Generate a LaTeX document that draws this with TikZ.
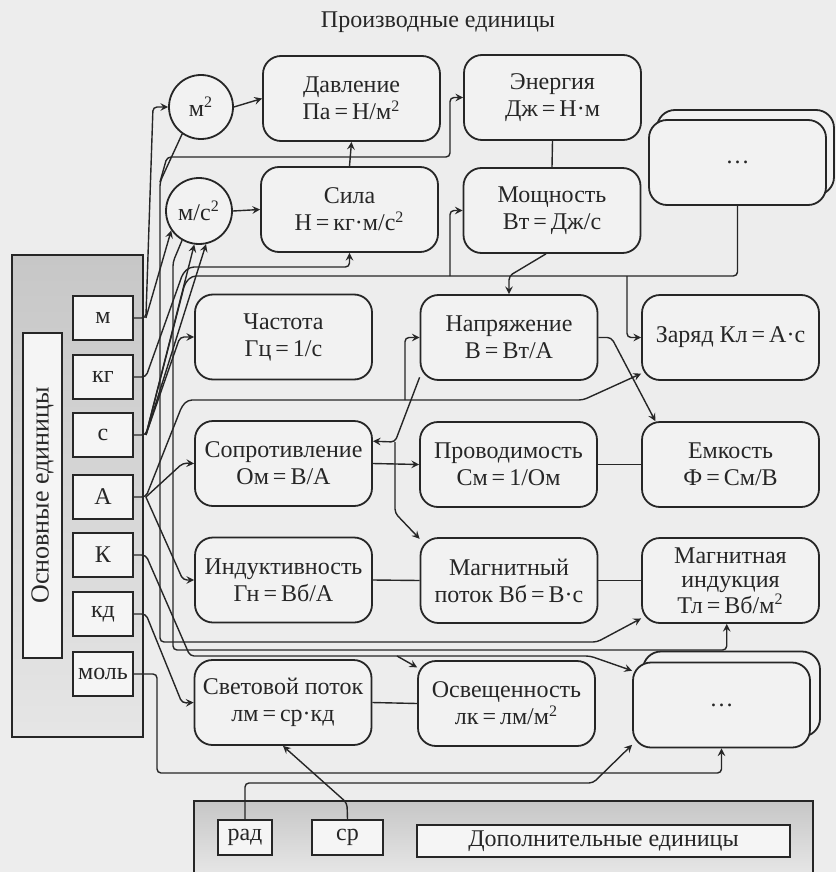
\documentclass[tikz,border=0pt]{standalone}
\usepackage{fontspec}
\setmainfont{Liberation Serif}
\usepackage{xcolor}
\usetikzlibrary{calc}

\tikzset{
  derived/.style={draw, line width=0.9pt, rounded corners=9pt, fill=black!5,
    minimum width=88.5pt, minimum height=42.5pt, align=center, inner sep=1pt,
    font=\fontsize{12}{13.5}\selectfont},
  unitbox/.style={draw, line width=0.9pt, fill=black!4, minimum width=30pt,
    minimum height=22pt, inner sep=0pt, font=\fontsize{12}{12}\selectfont},
  groupbox/.style={line width=0.9pt, top color=black!22, bottom color=black!10, inner sep=0pt},
  powerunit/.style={draw, circle, line width=0.9pt, fill=black!5, inner sep=0pt,
    font=\fontsize{12}{12}\selectfont},
  link/.style={line width=0.7pt, rounded corners=2pt},
}

\begin{document}
\begin{tikzpicture}[x=0.5pt, y=-0.5pt, >=stealth, color=black!85]
    % фон страницы
    \fill[black!7] (0,0) rectangle (836,872);
    \useasboundingbox (0,0) rectangle (836,872);

    \node (title) at (438,22) {\fontsize{12}{12}\selectfont Производные единицы};

    % основные единицы
    \node (base) [groupbox, draw, minimum width=65.5pt, minimum height=241pt] at (77.5,496) {};
    \node (baselabel) [unitbox, rotate=90, minimum width=162.5pt, minimum height=19.5pt,
        font=\fontsize{13}{13}\selectfont] at (42.5,495.5) {Основные единицы};
    \node (m)   [unitbox] at (103,318) {м};
    \node (kg)  [unitbox] at (103,377) {кг};
    \node (sec) [unitbox] at (103,435) {с};
    \node (A)   [unitbox] at (103,497) {А};
    \node (K)   [unitbox] at (103,555) {К};
    \node (kd)  [unitbox] at (103,614) {кд};
    \node (mol) [unitbox] at (103,674) {моль};

    % дополнительные единицы (рамка уходит за край)
    \node (extra) [groupbox, minimum width=308.5pt, minimum height=35pt] at (503.5,837) {};
    \draw[line width=0.9pt] (extra.south west) -- (extra.north west) -- (extra.north east) -- (extra.south east);
    \node (rad) [unitbox, minimum width=27pt, minimum height=17.5pt] at (245,837.5) {рад};
    \node (sr)  [unitbox, minimum width=35.5pt, minimum height=17.5pt] at (347.5,837.5) {ср};
    \node (extralabel) [unitbox, minimum width=186.5pt, minimum height=16pt] at (603.5,841) {Дополнительные единицы};

    % промежуточные величины
    \node (m2)  [powerunit, minimum size=32pt] at (201,107) {м\textsuperscript{2}};
    \node (ms2) [powerunit, minimum size=33pt] at (199,211) {м/с\textsuperscript{2}};

    % производные единицы
    \node (d)   [derived] at (351.5,98.5)  {Давление\\Па\,=\,Н/м\textsuperscript{2}};
    \node (s)   [derived] at (349.5,209.5) {Сила\\Н\,=\,кг·м/с\textsuperscript{2}};
    \node (e)   [derived] at (552.5,97.5)  {Энергия\\Дж\,=\,Н·м};
    \node (p)   [derived] at (552,210.5)   {Мощность\\Вт\,=\,Дж/с};
    \node (dots1b) [derived] at (745.5,152.5) {};
    \node (dots1)  [derived] at (737.5,162.5) {…};
    \node (f)   [derived] at (283.5,337)   {Частота\\Гц\,=\,1/с};
    \node (u)   [derived] at (509,337.5)   {Напряжение\\В\,=\,Вт/А};
    \node (q)   [derived] at (730.5,337.5) {Заряд Кл\,=\,А·с};
    \node (r)   [derived] at (283.5,463.5) {Сопротивление\\Ом\,=\,В/А};
    \node (g)   [derived] at (508.5,464.5) {Проводимость\\См\,=\,1/Ом};
    \node (c)   [derived] at (730.5,464.5) {Емкость\\Ф\,=\,См/В};
    \node (l)   [derived] at (283.5,580)   {Индуктивность\\Гн\,=\,Вб/А};
    \node (phi) [derived] at (509,580.5)   {Магнитный\\поток Вб\,=\,В·с};
    \node (b)   [derived, font=\fontsize{12}{12}\selectfont] at (730.5,580.5) {Магнитная\\индукция\\Тл\,=\,Вб/м\textsuperscript{2}};
    \node (lf)  [derived] at (283,702.5)   {Световой поток\\лм\,=\,ср·кд};
    \node (lx)  [derived] at (506.5,703.5) {Освещенность\\лк\,=\,лм/м\textsuperscript{2}};
    \node (dots2b) [derived] at (731.5,694) {};
    \node (dots2)  [derived] at (721.5,705) {…};

    % узлы шин
    \coordinate (jm2) at (160,182);
    \coordinate (busc) at (192,276);
    \coordinate (jp) at (450,276);
    \coordinate (jq) at (627,276);
    \coordinate (jv) at (405,400);
    \coordinate (jr) at (395,442);
    \coordinate (jl) at (397,656);

    % связи от основных единиц
    \draw[link,->] (m.east) -- ++(12,0) -- (153,107) -- (m2.west);
    \draw[link,->] (m.east) ++(12,0) -- (ms2.215);
    \draw[link,->] (kg.east) -- ++(12,0) -- (183,273) -- (190,267) -| (s.south);
    \draw[link,->] (sec.east) -- ++(12,0) -- (ms2.262);
    \draw[link,->] (sec.east) ++(12,0) -- (ms2.282);
    \draw[link,->] (sec.east) ++(12,0) -- (180,337) -- (f.west);
    \draw[link] (sec.east) ++(12,0) -- (185,283) -- (busc) -| (dots1.south);
    \draw[link,->] (jp) |- (p.west);
    \draw[link,->] (jq) |- (q.west);
    \draw[link,->] (A.east) -- ++(12,0) -- (182,406) -- (188,400) -- (583,400) -- (q.202);
    \draw[link,->] (jv) |- (u.west);
    \draw[link,->] (A.east) ++(12,0) -- (183,463) -- (r.west);
    \draw[link,->] (A.east) ++(12,0) -- (183,580) -- (l.west);
    \draw[link,->] (K.east) -- ++(12,0) -- (190,656) -- (590,656) -- (dots2.159);
    \draw[link,->] (jl) -- (lx.158);
    \draw[link,->] (kd.east) -- ++(12,0) -- (182,703) -- (lf.west);
    \draw[link,->] (mol.east) -- (157,674) -- (157,773) -| (dots2.south);

    % связи от м^2 и м/с^2
    \draw[link,->] (m2.east) -- (d.west);
    \draw[link,->] (ms2.east) -- (s.west);
    \draw[link,->] (m2.235) -- (jm2) -- (160,642) -- (597,642) -- (b.203);
    \draw[link,->] (jm2) -- (167,157) -- (450,157) |- (e.west);
    \draw[link,->] (ms2.240) -- (173,262) -- (173,650) -| (b.265);

    % связи между производными единицами
    \draw[link,->] (s.north) -- (d.south);
    \draw[link] (e.south) -- (p.north);
    \draw[link,->] (p.262) -- (u.north |- busc) -- (u.north);
    \draw[link,->] (u.204) -- (jr) -- (r.14);
    \draw[link,->] (jr) -- (395,513) -- (phi.155);
    \draw[link,->] (r.east) -- (g.west);
    \draw[link,->] (u.east) -- ++(13,0) -- (c.150);
    \draw[link] (g.east) -- (c.west);
    \draw[link] (l.east) -- (phi.west);
    \draw[link] (phi.east) -- (b.west);
    \draw[link] (lf.east) -- (lx.west);

    % связи от дополнительных единиц
    \draw[link,->] (sr.north) -- (347,803) -- (lf.south);
    \draw[link,->] (rad.north) -- (245,783) -- (593,783) -- (dots2.204);
\end{tikzpicture}
\end{document}
